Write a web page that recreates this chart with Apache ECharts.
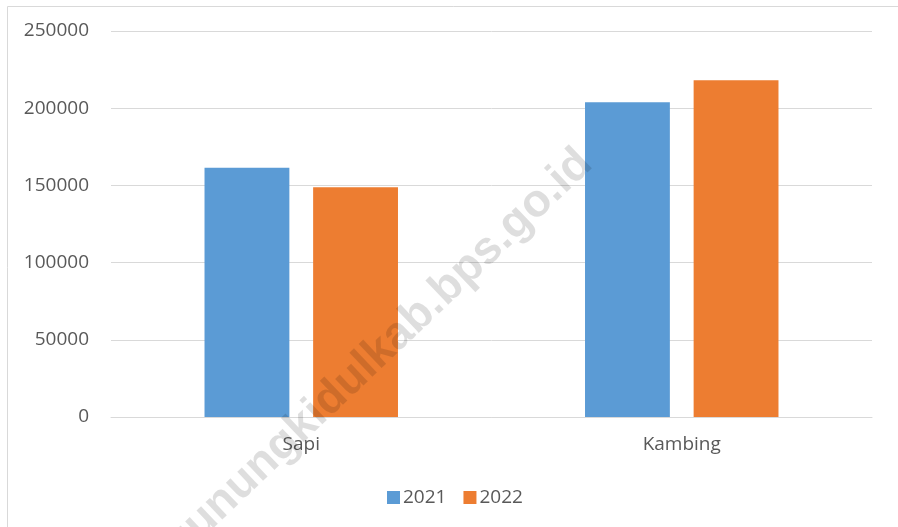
<!DOCTYPE html>
<html>
<head>
<meta charset="utf-8">
<script src="https://cdn.jsdelivr.net/npm/echarts@6/dist/echarts.min.js"></script>
<style>
  html, body { margin: 0; padding: 0; background: #fff; }
  #main { width: 898px; height: 527px; }
</style>
</head>
<body>
<div id="main"></div>
<script>
// data
const categories = ['Sapi', 'Kambing'];
const years = ['2021', '2022'];
const values2021 = [161500, 203800];
const values2022 = [148800, 218100];
const yTicks = [0, 50000, 100000, 150000, 200000, 250000];

const colors = ['#5B9BD5', '#ED7D31'];
const textColor = '#595959';
const fontFam = '"Open Sans", "Noto Sans", sans-serif';

const chart = echarts.init(document.getElementById('main'));

const option = {
  animation: false,
  color: colors,
  grid: { left: 111, right: 26, top: 31, bottom: 110 },
  legend: {
    data: years,
    left: 382,
    top: 483,
    icon: 'rect',
    itemWidth: 13,
    itemHeight: 13,
    itemGap: 17,
    selectedMode: false,
    textStyle: { color: textColor, fontSize: 19, fontFamily: fontFam, padding: [0, 0, 0, -2] }
  },
  xAxis: {
    type: 'category',
    data: categories,
    axisLine: { lineStyle: { color: '#d9d9d9', width: 1 } },
    axisTick: { show: false },
    axisLabel: { color: textColor, fontSize: 19, fontFamily: fontFam, margin: 18 }
  },
  yAxis: {
    type: 'value',
    min: yTicks[0],
    max: yTicks[yTicks.length - 1],
    interval: 50000,
    axisLine: { show: false },
    axisTick: { show: false },
    splitLine: { lineStyle: { color: '#d9d9d9', width: 1 } },
    axisLabel: {
      color: textColor, fontSize: 19, fontFamily: fontFam, margin: 22,
      formatter: function (v) { return String(v); }
    }
  },
  series: [
    {
      name: years[0],
      type: 'bar',
      data: values2021,
      barWidth: '22.3%',
      barGap: '28%'
    },
    {
      name: years[1],
      type: 'bar',
      data: values2022,
      barWidth: '22.3%',
      barGap: '28%'
    }
  ],
  graphic: [
    {
      type: 'rect',
      left: 5, top: 4,
      shape: { width: 1000, height: 1000 },
      style: { fill: 'none', stroke: '#d9d9d9', lineWidth: 1 },
      silent: true
    },
    // watermark
    {
      type: 'text',
      x: 378, y: 354,
      rotation: 0.76,
      z: 100,
      silent: true,
      style: {
        text: 'gunungkidulkab.bps.go.id',
        fill: 'rgba(0,0,0,0.13)',
        font: 'bold 46px "Liberation Sans", Arial, sans-serif',
        align: 'center',
        verticalAlign: 'middle'
      }
    }
  ]
};

chart.setOption(option);
window.onresize = function () {
  chart.resize();
};
</script>
</body>
</html>
